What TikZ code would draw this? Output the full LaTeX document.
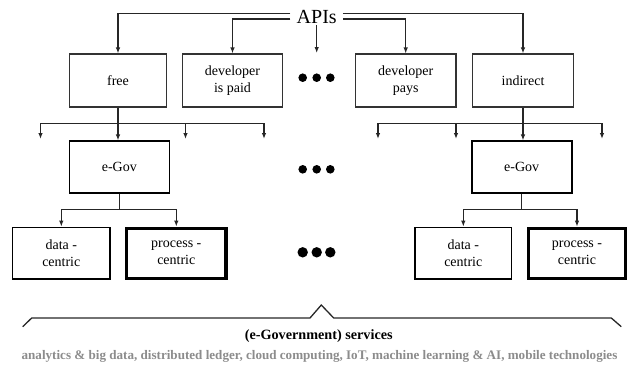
\documentclass[tikz,border=0pt]{standalone}
\usepackage{fontspec}
\setmainfont{Liberation Serif}
\usetikzlibrary{arrows.meta}
\begin{document}
\begin{tikzpicture}[x=1pt,y=-1pt,
  box/.style={draw=black!80, line width=1.1pt, minimum width=#1, minimum height=53pt, inner sep=0pt, align=center, font=\fontsize{14}{17}\selectfont},
  gbox/.style={draw=black, line width=1.6pt, minimum width=#1, minimum height=51.5pt, inner sep=0pt, align=center, font=\fontsize{14}{17}\selectfont},
  pbox/.style={draw=black, line width=3.2pt, minimum width=#1, minimum height=50pt, inner sep=0pt, align=center, font=\fontsize{14}{17}\selectfont},
  conn/.style={draw=black!85, line width=1.1pt},
  arr/.style={conn, -{Latex[length=6pt,width=4.5pt]}},
  dot/.style={circle, fill=black, inner sep=0pt, minimum size=#1},
  brace/.style={draw=black!85, line width=1.3pt, line join=miter}
]
\useasboundingbox (0,0) rectangle (633,365);
% top
\node[font=\fontsize{20}{20}\selectfont, inner xsep=6pt, inner ysep=1pt] (apis) at (316.7,17) {APIs};
\node[box=97pt] (free) at (118,80.5) {free};
\node[box=100.5pt] (dpaid) at (232.5,80.5) {developer\\is paid};
\node[box=100.5pt] (dpays) at (405.7,80.5) {developer\\pays};
\node[box=100.5pt] (indir) at (523,80.5) {indirect};
\coordinate (yo) at (0,13.5);
\coordinate (yi) at (0,19);
\coordinate (midend) at (316.7,53);
\draw[arr] (apis.west |- yo) -| (free.north);
\draw[arr] (apis.east |- yo) -| (indir.north);
\draw[arr] (apis.west |- yi) -| (dpaid.north);
\draw[arr] (apis.east |- yi) -| (dpays.north);
\draw[arr] (apis.south) -- (midend);
% dots
\foreach \y/\s [count=\r] in {77.7/8.6pt,169.3/8.6pt,252.3/10.4pt}{
  \node[dot=\s] (d\r a) at (302.7,\y) {};
  \node[dot=\s] (d\r b) at (316.7,\y) {};
  \node[dot=\s] (d\r c) at (330.3,\y) {};
}
% e-Gov
\node[gbox=100pt] (egL) at (119.3,167) {e-Gov};
\node[gbox=100pt] (egR) at (521.7,167) {e-Gov};
% branches
\coordinate (br) at (0,123.3);
\coordinate (l1) at (40.5,139);
\coordinate (l3) at (185.5,139);
\coordinate (l4) at (264,139);
\coordinate (r1) at (378,139);
\coordinate (r2) at (456,139);
\coordinate (r4) at (602,139);
\draw[arr] (free.south) -- (free.south |- egL.north);
\draw[conn] (l1 |- br) -- (l4 |- br);
\draw[arr] (l1 |- br) -- (l1);
\draw[arr] (l3 |- br) -- (l3);
\draw[arr] (l4 |- br) -- (l4);
\draw[arr] (indir.south) -- (indir.south |- egR.north);
\draw[conn] (r1 |- br) -- (r4 |- br);
\draw[arr] (r1 |- br) -- (r1);
\draw[arr] (r2 |- br) -- (r2);
\draw[arr] (r4 |- br) -- (r4);
% bottom boxes
\node[gbox=97.3pt] (dcL) at (61.3,253.2) {data -\\centric};
\node[pbox=99.5pt] (pcL) at (176.3,253.2) {process -\\centric};
\node[gbox=96.7pt] (dcR) at (463.3,253.2) {data -\\centric};
\node[pbox=97.5pt] (pcR) at (577,253.2) {process -\\centric};
\coordinate (sb) at (0,209.3);
\draw[conn] (egL.south) -- (egL.south |- sb);
\draw[arr] (egL.south |- sb) -| (dcL.north);
\draw[arr] (egL.south |- sb) -| (pcL.north);
\draw[conn] (egR.south) -- (egR.south |- sb);
\draw[arr] (egR.south |- sb) -| (dcR.north);
\draw[arr] (egR.south |- sb) -| (pcR.north);
% brace
\coordinate (bL) at (22.7,326.7);
\coordinate (bR) at (621.3,326.7);
\coordinate (bP) at (321.3,305);
\draw[brace] (bL) -- (31.7,318) -- (310,318) -- (bP) -- (333.7,318) -- (611.3,318) -- (bR);
\node[font=\bfseries\fontsize{14.2}{14.2}\selectfont, inner sep=0pt] (svc) at (318.7,336.5) {(e-Government) services};
\node[font=\bfseries\fontsize{13.1}{13.1}\selectfont, text=black!45, inner sep=0pt] (tech) at (319.5,356.5) {analytics \& big data, distributed ledger, cloud computing, IoT, machine learning \& AI, mobile technologies};
\end{tikzpicture}
\end{document}
